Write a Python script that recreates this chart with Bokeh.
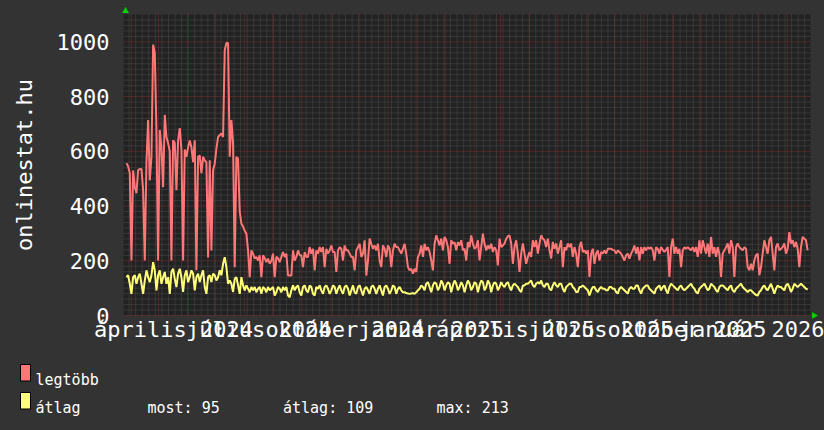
import numpy as np
import pandas as pd
from bokeh.plotting import figure
from bokeh.layouts import column, row
from bokeh.models import FixedTicker, LinearAxis, Range1d
from bokeh.core.properties import value
from bokeh.embed import file_html
from bokeh.resources import INLINE

# ---------------- data ----------------
legtobb = [
    557, 545, 520, 201, 530, 470, 447, 531, 535, 535,
    458, 201, 560, 714, 494, 579, 990, 960, 678, 201,
    678, 615, 469, 733, 652, 630, 600, 201, 640, 630,
    458, 640, 685, 607, 201, 607, 580, 615, 640, 615,
    560, 640, 165, 580, 585, 520, 580, 567, 560, 212,
    567, 238, 531, 555, 610, 652, 660, 665, 652, 970,
    996, 996, 580, 714, 630, 176, 580, 573, 380,
    336, 325, 310, 299, 238, 140, 238, 226, 208, 214,
    201, 220, 140, 220, 210, 195, 208, 189, 200, 226,
    140, 214, 210, 195, 214, 232, 214, 226, 146, 146,
    146, 238, 201, 214, 238, 220, 220, 177, 232, 214,
    214, 250, 226, 244, 165, 238, 226, 250, 232, 250,
    177, 244, 226, 238, 256, 232, 232, 159, 238, 250,
    244, 201, 256, 238, 238, 226, 214, 214, 165, 238,
    250, 262, 214, 226, 275, 146, 200, 281, 262, 244,
    256, 238, 262, 201, 177, 256, 244, 214, 256, 244,
    177, 238, 262, 250, 250, 238, 226, 244, 262, 226,
    177, 165, 171, 153, 171, 159, 214, 226, 256, 214,
    262, 238, 250, 232, 201, 165, 262, 293, 275, 256,
    281, 238, 287, 275, 250, 189, 275, 262, 268, 238,
    268, 256, 275, 238, 244, 201, 268, 250, 293, 262,
    244, 250, 275, 201, 250, 299, 262, 238, 256, 244,
    262, 232, 250, 238, 183, 281,
    250, 256, 263, 280, 290, 293, 263, 189, 250, 275,
    226, 159, 226, 263, 226, 189, 214, 232, 214, 275,
    250, 275, 226, 263, 293, 281, 275, 250, 281, 238,
    208, 269, 244, 263, 226, 250, 275, 177, 250, 238,
    263, 250, 263, 214, 250, 226, 177, 250, 269, 232,
    238, 226, 238, 141, 226, 244, 189, 226, 238, 201,
    232, 226, 238, 226, 244, 244, 244, 240, 238, 226,
    238, 232, 226, 214, 201, 220, 226, 208, 226, 238,
    256, 226, 250, 201, 250, 226, 250, 238, 250, 244,
    250, 238, 201, 250, 244, 226, 250, 240, 232, 240,
    250, 141, 250, 281, 226, 250, 226, 244, 177, 238,
    250, 244, 250, 244, 238, 250, 232, 250, 214, 275,
    226, 275, 250, 226, 263, 214, 287, 226, 250, 214,
    250, 226, 141, 226, 238, 250, 263, 226, 275, 250,
    141, 250, 263, 250, 244, 238, 250, 244, 177, 165,
    189, 165, 201, 220, 226, 147, 177, 226, 275, 250,
    226, 275, 287, 226, 165, 250, 263, 238, 244, 250,
    263, 226, 244, 305, 263, 275, 250, 269, 244, 177,
    250, 287, 281, 275, 238,
]

atlag = [
    140, 147, 116, 79, 140, 147, 116, 140, 153, 116,
    79, 128, 165, 140, 122, 147, 195, 165, 92, 147,
    165, 116, 140, 159, 116, 140, 79, 159, 171, 134,
    104, 153, 171, 140, 86, 147, 165, 122, 140, 165,
    153, 92, 140, 153, 122, 147, 165, 104, 79, 140,
    147, 122, 153, 147, 128, 140, 165, 147, 189, 213,
    177, 116, 128, 116, 86, 134, 140, 110, 79,
    140, 110, 92, 110, 98, 85, 104, 92, 104, 85,
    98, 104, 79, 104, 98, 85, 104, 92, 98, 104,
    73, 85, 104, 98, 85, 104, 92, 104, 73, 67,
    92, 110, 92, 104, 110, 85, 73, 104, 110, 92,
    85, 110, 104, 79, 73, 104, 98, 110, 92, 79,
    104, 110, 98, 79, 92, 110, 104, 79, 98, 110,
    92, 79, 104, 110, 98, 73, 92, 110, 85, 79,
    104, 110, 92, 73, 98, 104, 92, 79, 104, 110,
    98, 79, 98, 110, 92, 73, 104, 110, 98, 79,
    92, 110, 104, 79, 98, 104, 92, 85, 85, 82,
    80, 79, 80, 82, 79, 85, 92, 98, 110, 104,
    92, 116, 122, 104, 85, 110, 122, 116, 92, 104,
    128, 116, 92, 110, 122, 116, 85, 110, 128, 116,
    92, 104, 122, 110, 85, 110, 128, 116, 92, 104,
    122, 116, 85, 110, 128, 122, 92, 104, 128, 116,
    85, 110, 122, 116, 92, 104,
    122, 110, 104, 116, 122, 104, 92, 110, 116, 110,
    104, 92, 86, 110, 110, 116, 116, 122, 128, 110,
    104, 116, 122, 116, 128, 110, 104, 116, 116, 98,
    92, 110, 122, 110, 104, 116, 116, 98, 86, 104,
    110, 116, 116, 104, 98, 86, 86, 104, 104, 110,
    104, 98, 92, 73, 92, 104, 104, 92, 86, 98,
    104, 98, 98, 92, 92, 104, 104, 98, 98, 86,
    80, 98, 104, 98, 92, 86, 80, 98, 104, 98,
    98, 110, 110, 92, 80, 98, 104, 110, 110, 98,
    92, 86, 80, 98, 104, 110, 92, 104, 110, 92,
    80, 104, 116, 110, 104, 98, 92, 104, 110, 98,
    92, 98, 104, 110, 116, 104, 98, 86, 80, 98,
    104, 110, 116, 104, 92, 98, 116, 110, 104, 92,
    86, 104, 110, 110, 104, 98, 92, 104, 110, 92,
    86, 98, 104, 110, 116, 104, 98, 92, 86, 92,
    92, 86, 80, 75, 73, 86, 92, 104, 110, 98,
    92, 104, 116, 98, 80, 98, 110, 104, 104, 98,
    92, 110, 116, 104, 86, 98, 116, 110, 104, 110,
    116, 110, 104, 98, 95,
]

first_sample = "2024-01-26 20:00"
last_sample = "2026-01-22 19:00"
view_start = "2024-01-23 16:00"
view_end = "2026-01-25 20:00"
y_max = 1100

y_ticks = [0, 200, 400, 600, 800, 1000]
label_months = ["2024-04-01", "2024-07-01", "2024-10-01", "2025-01-01",
                "2025-04-01", "2025-07-01", "2025-10-01", "2026-01-01"]
label_texts = ["április 2024", "július 2024", "október 2024", "január 2025",
               "április 2025", "július 2025", "október 2025", "január 2026"]
series_names = ["legtöbb", "átlag"]
stat_texts = ["most: 95", "átlag: 109", "max: 213"]
y_title = "onlinestat.hu"

# ---------------- styling ----------------
RED = "#ff7777"
YEL = "#ffff77"
OUTER = "#333333"
INNER = "#222222"
MAJ_GRID = "#7a3030"
MIN_GRID = "#4c4c4c"
GREEN = "#00d000"
MONO = "DejaVu Sans Mono"

EPOCH = pd.Timestamp("2024-01-01")


def day(s):
    return (pd.Timestamp(s) - EPOCH) / pd.Timedelta(days=1)


def bare(fig):
    fig.frame_align = False
    return fig


# page geometry
PAGE_W, HA, HB = 824, 350, 80
T_W = 40                                                     # strip holding the y title
AREA_L, AREA_R, AREA_T, AREA_B = 123, 810, 14, 315          # plot area, page pixels
FRAME_L, FRAME_R, FRAME_T, FRAME_B = 121, 818, 6, 318       # frame, page pixels

W = PAGE_W - T_W
FL, FR, FT, FB = FRAME_L - T_W, PAGE_W - FRAME_R, FRAME_T, HA - FRAME_B

xa, xb = day(view_start), day(view_end)
kx = (AREA_R - AREA_L) / (xb - xa)
ky = (AREA_B - AREA_T) / y_max
x0f = xa - (AREA_L - FRAME_L) / kx
x1f = xb + (FRAME_R - AREA_R) / kx
y0f = -(FRAME_B - AREA_B) / ky
y1f = y_max + (AREA_T - FRAME_T) / ky

xs = np.linspace(day(first_sample), day(last_sample), len(legtobb))

p = bare(figure(width=W, height=HA, output_backend="svg", toolbar_location=None,
                x_range=Range1d(x0f, x1f), y_range=Range1d(y0f, y1f),
                x_axis_type=None, y_axis_type=None,
                min_border_left=FL, min_border_right=FR,
                min_border_top=FT, min_border_bottom=FB,
                background_fill_color=OUTER, border_fill_color=OUTER,
                outline_line_color=None))

# plot-area background
p.quad(left=[xa], right=[xb], bottom=[0], top=[y_max], color=INNER, line_color=None)

# grid lines
month_starts = [day(d) for d in pd.date_range("2024-02-01", "2026-01-01", freq="MS")]
mondays = [day(d) for d in pd.date_range(view_start, view_end, freq="W-MON")]
y_minor = [v for v in range(20, y_max, 20) if v % 200]

p.segment(x0=mondays, x1=mondays, y0=[0] * len(mondays), y1=[y_max] * len(mondays),
          line_color=MIN_GRID, line_dash="1 1", line_width=1)
p.segment(x0=[xa] * len(y_minor), x1=[xb] * len(y_minor), y0=y_minor, y1=y_minor,
          line_color=MIN_GRID, line_dash="1 1", line_width=1)
p.segment(x0=month_starts, x1=month_starts, y0=[0] * len(month_starts),
          y1=[y_max] * len(month_starts), line_color=MAJ_GRID, line_dash="1 1", line_width=1)
p.segment(x0=[xa] * len(y_ticks), x1=[xb] * len(y_ticks), y0=y_ticks, y1=y_ticks,
          line_color=MAJ_GRID, line_dash="1 1", line_width=1)

# y axis
yaxis = LinearAxis(ticker=FixedTicker(ticks=y_ticks), bounds=(0, y_max),
                   axis_line_color=None,
                   major_tick_line_color=None, minor_tick_line_color=None,
                   major_tick_out=0, major_tick_in=0, minor_tick_out=0,
                   major_label_standoff=12, major_label_text_color="white",
                   major_label_text_font=MONO, major_label_text_font_size="22px")
p.add_layout(yaxis, "left")

# time axis: labels centred half a month before the month they name (as in the original)
label_pos = [int(day(m)) - 15 for m in label_months]
xaxis = LinearAxis(ticker=FixedTicker(ticks=label_pos),
                   major_label_overrides={k: t for k, t in zip(label_pos, label_texts)},
                   axis_line_color=None, major_tick_line_color=None,
                   minor_tick_line_color=None, major_tick_out=0, major_tick_in=0,
                   minor_tick_out=0, major_label_standoff=-2,
                   major_label_text_color="white", major_label_text_font=MONO,
                   major_label_text_font_size="22px")
p.add_layout(xaxis, "below")

# series
p.line(xs, legtobb, line_color=RED, line_width=2)
p.line(xs, atlag, line_color=YEL, line_width=2)

# green axis arrows
p.scatter(x=[xa + 2 / kx], y=[y_max + 3.5 / ky], marker="triangle", size=7,
          color=GREEN, line_color=None)
p.scatter(x=[xb + 3.5 / kx], y=[0], marker="triangle", size=7, angle=-np.pi / 2,
          color=GREEN, line_color=None)

# ---------------- y title strip (pixel coordinates, y up) ----------------
t = bare(figure(width=T_W, height=HA, output_backend="svg", toolbar_location=None,
                x_range=Range1d(0, T_W), y_range=Range1d(0, HA),
                x_axis_type=None, y_axis_type=None,
                min_border=0, min_border_left=0, min_border_right=0,
                min_border_top=0, min_border_bottom=0,
                background_fill_color=OUTER, border_fill_color=OUTER,
                outline_line_color=None))
t.text(x=[24], y=[HA - (AREA_T + AREA_B) / 2], text=[y_title], angle=np.pi / 2,
       text_align="center", text_baseline="alphabetic", text_color="white",
       text_font=value(MONO), text_font_size="22px")

# ---------------- legend strip (pixel coordinates) ----------------
q = bare(figure(width=PAGE_W, height=HB, output_backend="svg", toolbar_location=None,
                x_range=Range1d(0, PAGE_W), y_range=Range1d(HA + HB, HA),
                x_axis_type=None, y_axis_type=None,
                min_border=0, min_border_left=0, min_border_right=0,
                min_border_top=0, min_border_bottom=0,
                background_fill_color=OUTER, border_fill_color=OUTER,
                outline_line_color=None))

box_tops = [364, 392]
text_base = [379.5, 407.5]
q.quad(left=[20, 20], right=[30, 30], top=box_tops, bottom=[b + 16.5 for b in box_tops],
       fill_color=[RED, YEL], line_color="black", line_width=1)
q.text(x=[35, 35], y=text_base, text=series_names, text_color="white",
       text_font=value(MONO), text_font_size="15px", text_baseline="alphabetic",
       text_align="left")
q.text(x=[147, 282.5, 436], y=[text_base[1]] * 3, text=stat_texts, text_color="white",
       text_font=value(MONO), text_font_size="15px", text_baseline="alphabetic",
       text_align="left")

layout = column(row(t, p, spacing=0), q, spacing=0)
html = file_html(layout, INLINE, title="onlinestat.hu")
html = html.replace("</head>", "<style>html,body{background:%s;}</style></head>" % OUTER, 1)
open("out.html", "w").write(html)
